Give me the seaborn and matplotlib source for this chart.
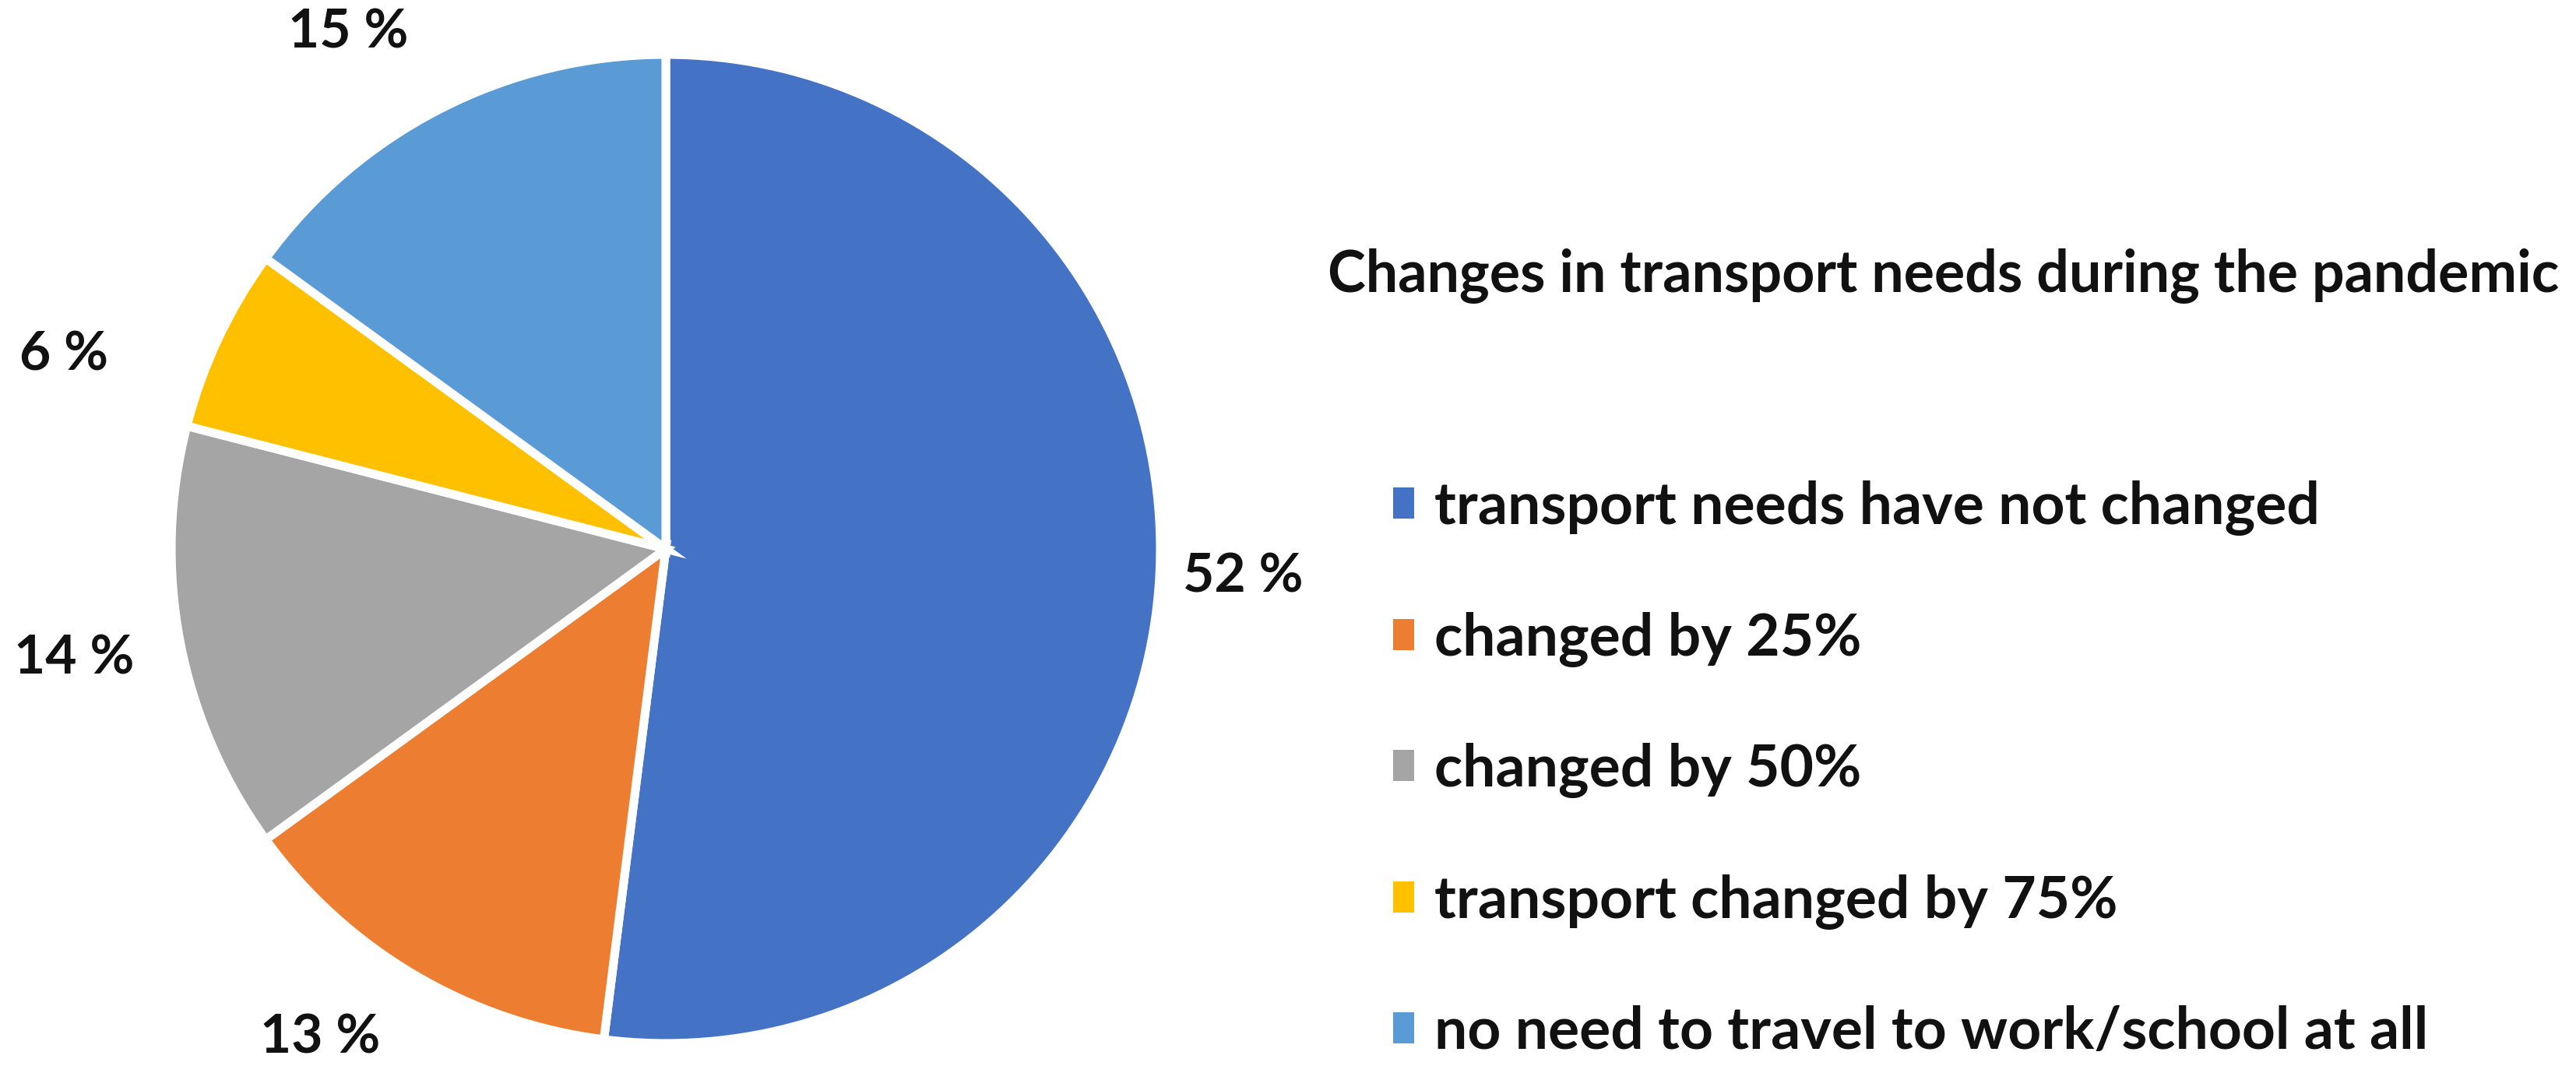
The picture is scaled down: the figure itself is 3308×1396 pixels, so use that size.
import matplotlib
matplotlib.use("Agg")
import matplotlib.pyplot as plt
import seaborn as sns

categories = [
    "transport needs have not changed",
    "changed by 25%",
    "changed by 50%",
    "transport changed by 75%",
    "no need to travel to work/school at all",
]
values = [52, 13, 14, 6, 15]
colors = ["#4472C4", "#ED7D31", "#A5A5A5", "#FFC000", "#5B9BD5"]
title = "Changes in transport needs during the pandemic"

# label placement (pie data units, radius = 1)
label_xy = [(1.168, -0.057), (-0.699, -0.989), (-1.197, -0.222), (-1.217, 0.392), (-0.643, 1.044)]

sns.set_theme(style="white")
plt.rcParams["font.family"] = ["Lato", "DejaVu Sans"]
plt.rcParams["font.weight"] = "bold"

fig = plt.figure(figsize=(33.08, 13.96), dpi=100)
ax = fig.add_axes([220 / 3308, 56 / 1396, 1270 / 3308, 1270 / 1396])

wedges, texts, autotexts = ax.pie(
    values,
    colors=colors,
    startangle=90,
    counterclock=False,
    autopct=lambda p: f"{p:.0f} %",
    pctdistance=1.2,
    wedgeprops=dict(edgecolor="white", linewidth=8),
    textprops=dict(fontsize=50, fontweight="bold", color="#111111"),
)
for t, (x, y) in zip(autotexts, label_xy):
    t.set_position((x, y))
    t.set_ha("center")
    t.set_va("center")
ax.set_xlim(-1, 1)
ax.set_ylim(-1, 1)
ax.set_aspect("equal")
ax.axis("off")

fig.text(1705 / 3308, 1 - 355 / 1396, title, fontsize=53, fontweight="bold",
         color="#111111", ha="left", va="center")

leg = fig.legend(
    wedges, categories,
    loc="upper left",
    bbox_to_anchor=(1789 / 3308, 1 - 617 / 1396),
    frameon=False,
    fontsize=54,
    handlelength=0.36,
    handleheight=0.45,
    handletextpad=0.35,
    labelspacing=1.30,
    borderpad=0,
    borderaxespad=0,
)
for t in leg.get_texts():
    t.set_fontweight("bold")
    t.set_color("#111111")
for h in leg.legend_handles:
    h.set_edgecolor("none")

fig.savefig("out.png", dpi=100, facecolor="white")
